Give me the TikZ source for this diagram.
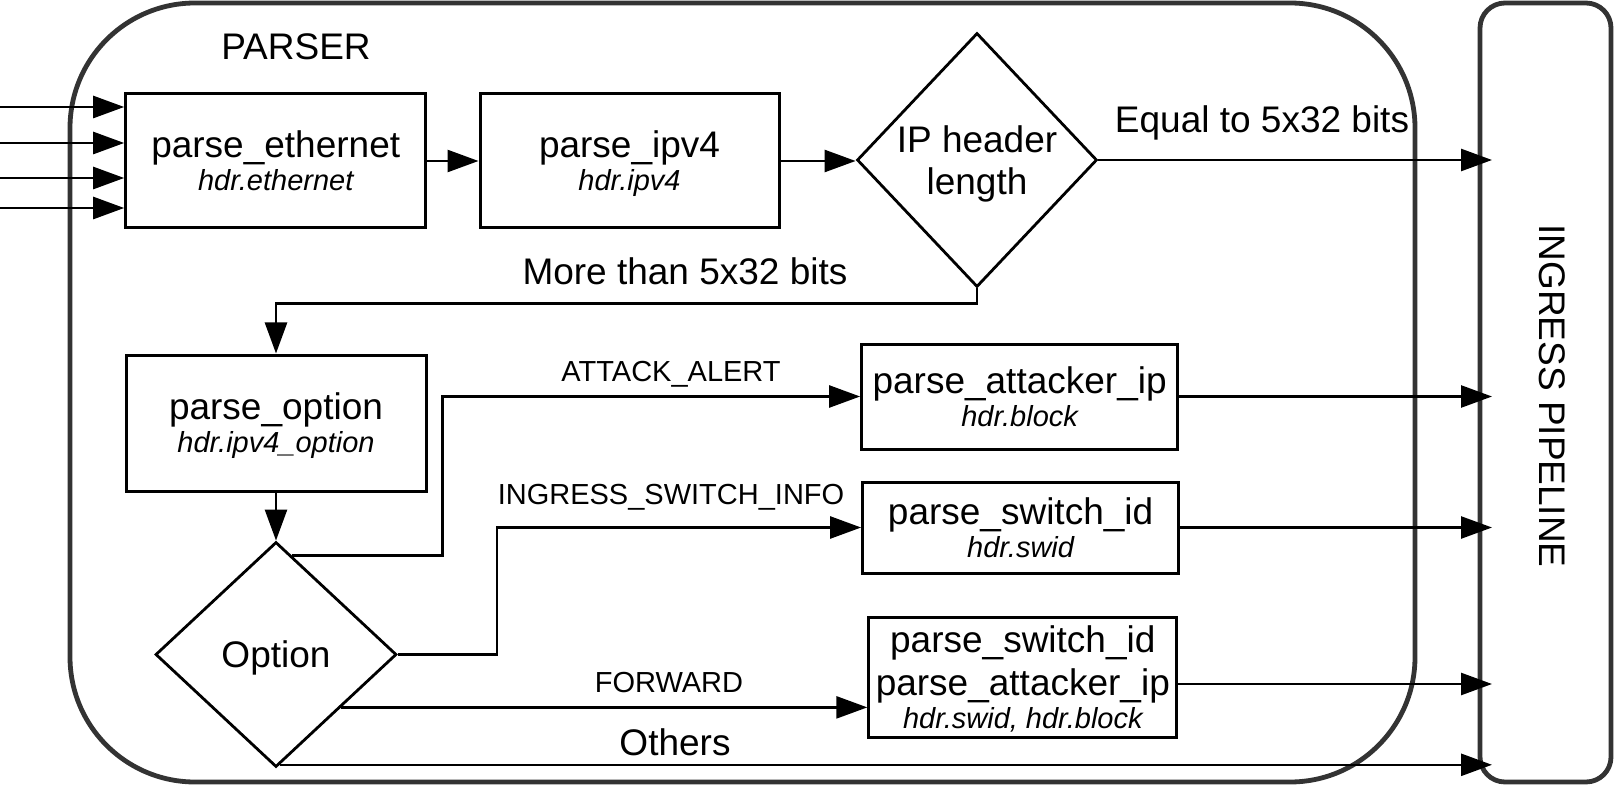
\documentclass[tikz,border=0pt]{standalone}
\usepackage{fontspec}
\setmainfont{Liberation Sans}
\usetikzlibrary{shapes.geometric,arrows.meta}

\tikzset{
  blk/.style={draw, fill=white, line width=3pt, align=center, inner sep=0pt, text depth=0pt},
  dec/.style={draw, diamond, fill=white, line width=2.8pt, align=center, inner sep=0pt, text depth=0pt},
  flow/.style={line width=2.6pt, -{Triangle[length=31pt,width=22pt]}},
  frame/.style={draw=black!80, line width=4.8pt},
  big/.style={font=\fontsize{37}{33}\selectfont},
  lbl/.style={font=\fontsize{29}{34}\selectfont, anchor=base},
}
\newcommand{\hdr}[1]{{\fontsize{29}{34}\selectfont\itshape #1}}

\begin{document}
\begin{tikzpicture}[x=1pt,y=-1pt]
			\useasboundingbox (0,0) rectangle (1617,786);
			\node[frame, rounded corners=125pt, minimum width=1345pt, minimum height=779pt] (parser) at (742.5,392.5) {};
			\node[frame, rounded corners=25pt, minimum width=131pt, minimum height=779pt] (ingress) at (1545.5,392.5) {};
			\node[big, anchor=base] (ptitle) at (296,60) {PARSER};
			\node[big, rotate=-90] (ititle) at (1552,396) {INGRESS PIPELINE};
			\node[blk, big, minimum width=300pt, minimum height=134pt] (eth) at (275.7,161) {parse\_ethernet\\\hdr{hdr.ethernet}};
			\node[blk, big, minimum width=299pt, minimum height=134pt] (ipv4) at (629.5,161) {parse\_ipv4\\\hdr{hdr.ipv4}};
			\node[dec, big, minimum width=240pt, minimum height=254pt] (iplen) at (977,160) {IP header\\[9pt]length};
			\node[blk, big, minimum width=300pt, minimum height=136pt] (popt) at (276,423) {parse\_option\\\hdr{hdr.ipv4\_option}};
			\node[dec, big, minimum width=241pt, minimum height=225pt] (opt) at (276,654.5) {Option};
			\node[blk, big, minimum width=316pt, minimum height=105pt] (att) at (1019.6,396.5) {parse\_attacker\_ip\\\hdr{hdr.block}};
			\node[blk, big, minimum width=316pt, minimum height=91pt] (swid) at (1020.6,527.5) {parse\_switch\_id\\\hdr{hdr.swid}};
			\node[blk, big, minimum width=308pt, minimum height=120pt] (fwd) at (1022.8,677) {parse\_switch\_id\\[8pt]parse\_attacker\_ip\\\hdr{hdr.swid, hdr.block}};
			\node[big, anchor=base] (eqlbl) at (1262,133) {Equal to 5x32 bits};
			\node[big, anchor=base] (mtlbl) at (685,285) {More than 5x32 bits};
			\node[lbl] (alrt) at (671,381) {ATTACK\_ALERT};
			\node[lbl] (swinfo) at (671,504) {INGRESS\_SWITCH\_INFO};
			\node[lbl] (fwdlbl) at (669,692) {FORWARD};
			\node[big, anchor=base] (oth) at (675,755) {Others};
			\coordinate (edge) at (1492,0);
			\foreach \y [count=\i] in {107,143,178,208}
				\coordinate (in\i) at (0,\y);
			\foreach \i in {1,...,4}
				\draw[flow] (in\i) -- (in\i -| eth.west);
			\draw[flow] (eth) -- (ipv4);
			\draw[flow] (ipv4) -- (ipv4 -| iplen.west);
			\draw[flow] (iplen.east) -- (iplen.east -| edge);
			\draw[flow] (iplen.south) -- ++(0,15) -| (popt.north);
			\draw[flow] (popt) -- (opt);
			\draw[flow] (opt.81) -- ++(151,0) |- (att.west);
			\draw[flow] (opt.east) -- ++(99,0) |- (swid.west);
			\draw[flow] (opt.-39) -- (opt.-39 -| fwd.west);
			\draw[flow] (opt.-88) -- (opt.-88 -| edge);
			\draw[flow] (att.east) -- (att.east -| edge);
			\draw[flow] (swid.east) -- (swid.east -| edge);
			\draw[flow] ([yshift=-7pt]fwd.east) -- ([yshift=-7pt]fwd.east -| edge);
		\end{tikzpicture}
\end{document}
